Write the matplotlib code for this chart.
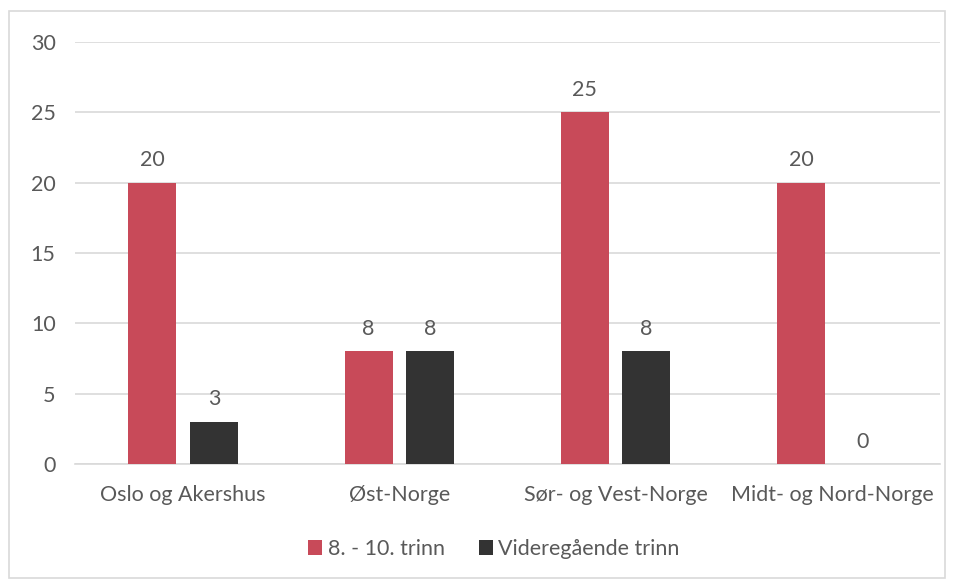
import matplotlib
matplotlib.use("Agg")
import matplotlib.pyplot as plt
import numpy as np
from matplotlib.patches import Rectangle

categories = ["Oslo og Akershus", "Øst-Norge", "Sør- og Vest-Norge", "Midt- og Nord-Norge"]
series_names = ["8. - 10. trinn", "Videregående trinn"]
trinn_8_10 = [20, 8, 25, 20]
videregaende = [3, 8, 8, 0]
yticks = [0, 5, 10, 15, 20, 25, 30]

plt.rcParams['font.family'] = ['Lato', 'DejaVu Sans']
text_color = "#595959"
red = "#C84A59"
dark = "#333333"
grid_c = "#D9D9D9"
fs = 15.5

fig = plt.figure(figsize=(9.55, 5.80), dpi=100)
fig.patches.append(Rectangle((9/955, 2/580), 936/955, 567/580, transform=fig.transFigure,
                             fill=False, edgecolor="#D9D9D9", linewidth=1.2))
ax = fig.add_axes([75/955, 116/580, 865/955, 422/580])

x = np.arange(len(categories))
w = 0.222
off = 0.1425
b1 = ax.bar(x - off, trinn_8_10, width=w, color=red, label=series_names[0], zorder=3)
b2 = ax.bar(x + off, videregaende, width=w, color=dark, label=series_names[1], zorder=3)

for bars, vals in ((b1, trinn_8_10), (b2, videregaende)):
    for r, v in zip(bars, vals):
        ax.annotate(str(v), (r.get_x() + r.get_width() / 2, v), xytext=(0, 9),
                    textcoords="offset points", ha="center", va="bottom",
                    fontsize=fs, color=text_color)

ax.set_xlim(-0.5, 3.5)
ax.set_ylim(0, 30)
ax.set_yticks(yticks)
ax.set_xticks(x)
ax.set_xticklabels(categories)
ax.tick_params(axis='both', length=0, labelsize=fs, colors=text_color)
ax.tick_params(axis='y', pad=14)
ax.tick_params(axis='x', pad=15)
ax.yaxis.grid(True, color=grid_c, linewidth=1.2, zorder=0)
for s in ["top", "right", "left"]:
    ax.spines[s].set_visible(False)
ax.spines["bottom"].set_color(grid_c)
ax.spines["bottom"].set_linewidth(1.2)

leg = fig.legend(handles=[b1, b2], labels=series_names, loc="center", bbox_to_anchor=(494/955, 1 - 549/580),
                 ncol=2, frameon=False, fontsize=fs, handlelength=0.65, handleheight=0.65,
                 handletextpad=0.25, columnspacing=1.6)
for t in leg.get_texts():
    t.set_color(text_color)

fig.savefig("out.png", dpi=100)
